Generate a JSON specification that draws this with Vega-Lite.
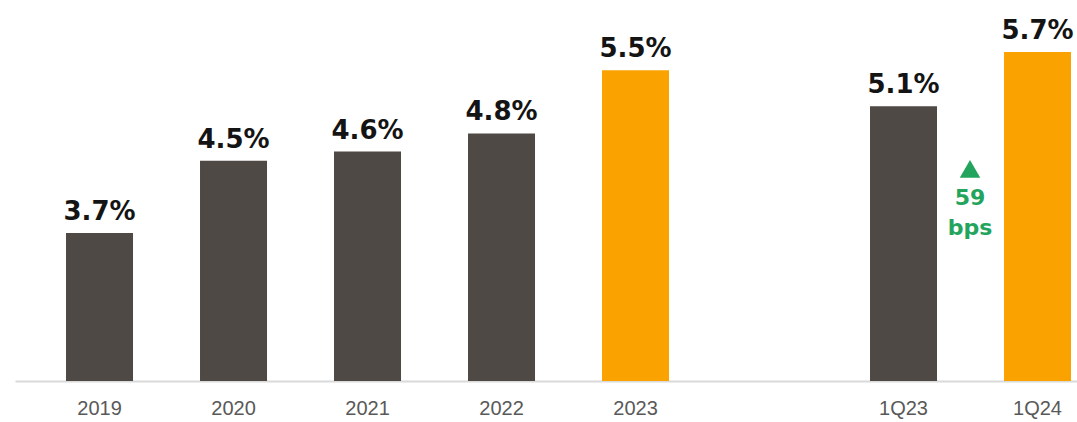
{
  "$schema": "https://vega.github.io/schema/vega-lite/v6.json",
  "width": 1062,
  "height": 381,
  "autosize": "none",
  "padding": {"left": 15, "top": 0, "right": 0, "bottom": 41},
  "background": "white",
  "config": {"view": {"stroke": null}},
  "datasets": {
    "bars": [
      {"period": "2019", "value": 3.7, "label": "3.7%", "series": "prior"},
      {"period": "2020", "value": 4.5, "label": "4.5%", "series": "prior"},
      {"period": "2021", "value": 4.6, "label": "4.6%", "series": "prior"},
      {"period": "2022", "value": 4.8, "label": "4.8%", "series": "prior"},
      {"period": "2023", "value": 5.5, "label": "5.5%", "series": "current"},
      {"period": "1Q23", "value": 5.1, "label": "5.1%", "series": "prior"},
      {"period": "1Q24", "value": 5.7, "label": "5.7%", "series": "current"}
    ],
    "note": [
      {"period": "1Q23", "arrow": "▲", "text": "59\nbps"}
    ]
  },
  "data": {"name": "bars"},
  "encoding": {
    "x": {
      "field": "period",
      "type": "nominal",
      "sort": null,
      "scale": {
        "domain": ["2019", "2020", "2021", "2022", "2023", " ", "1Q23", "1Q24"],
        "paddingInner": 0.5,
        "paddingOuter": 0.2127,
        "align": 0.895
      },
      "axis": {
        "title": null,
        "labelAngle": 0,
        "ticks": false,
        "domain": true,
        "domainColor": "#d9d9d9",
        "domainWidth": 2,
        "labelPadding": 17,
        "labelFont": "Liberation Sans Narrow, Arial Narrow, Liberation Sans, Arial",
        "labelFontSize": 20,
        "labelColor": "#595959"
      }
    }
  },
  "layer": [
    {
      "mark": {"type": "bar"},
      "encoding": {
        "y": {
          "field": "value",
          "type": "quantitative",
          "scale": {"domain": [2.065, 6.275], "zero": false, "nice": false},
          "axis": null
        },
        "y2": {"datum": 2.065},
        "color": {
          "field": "series",
          "type": "nominal",
          "scale": {"domain": ["prior", "current"], "range": ["#4E4945", "#FAA200"]},
          "legend": null
        }
      }
    },
    {
      "mark": {
        "type": "text",
        "baseline": "alphabetic",
        "dy": -13,
        "font": "DejaVu Sans",
        "fontWeight": "bold",
        "fontSize": 26,
        "color": "#141414"
      },
      "encoding": {
        "y": {"field": "value", "type": "quantitative"},
        "text": {"field": "label"}
      }
    },
    {
      "data": {"name": "note"},
      "mark": {"type": "point", "shape": "triangle-up", "filled": true, "size": 420, "opacity": 1, "color": "#22A45D", "xOffset": 33},
      "encoding": {
        "x": {"field": "period", "type": "nominal", "bandPosition": 1},
        "y": {"datum": 4.41}
      }
    },
    {
      "data": {"name": "note"},
      "mark": {
        "type": "text",
        "baseline": "top",
        "align": "center",
        "lineBreak": "\n",
        "font": "DejaVu Sans",
        "fontWeight": "bold",
        "fontSize": 22,
        "lineHeight": 30,
        "color": "#22A45D",
        "xOffset": 33
      },
      "encoding": {
        "x": {"field": "period", "type": "nominal", "bandPosition": 1},
        "y": {"datum": 4.2},
        "text": {"field": "text"}
      }
    }
  ]
}
